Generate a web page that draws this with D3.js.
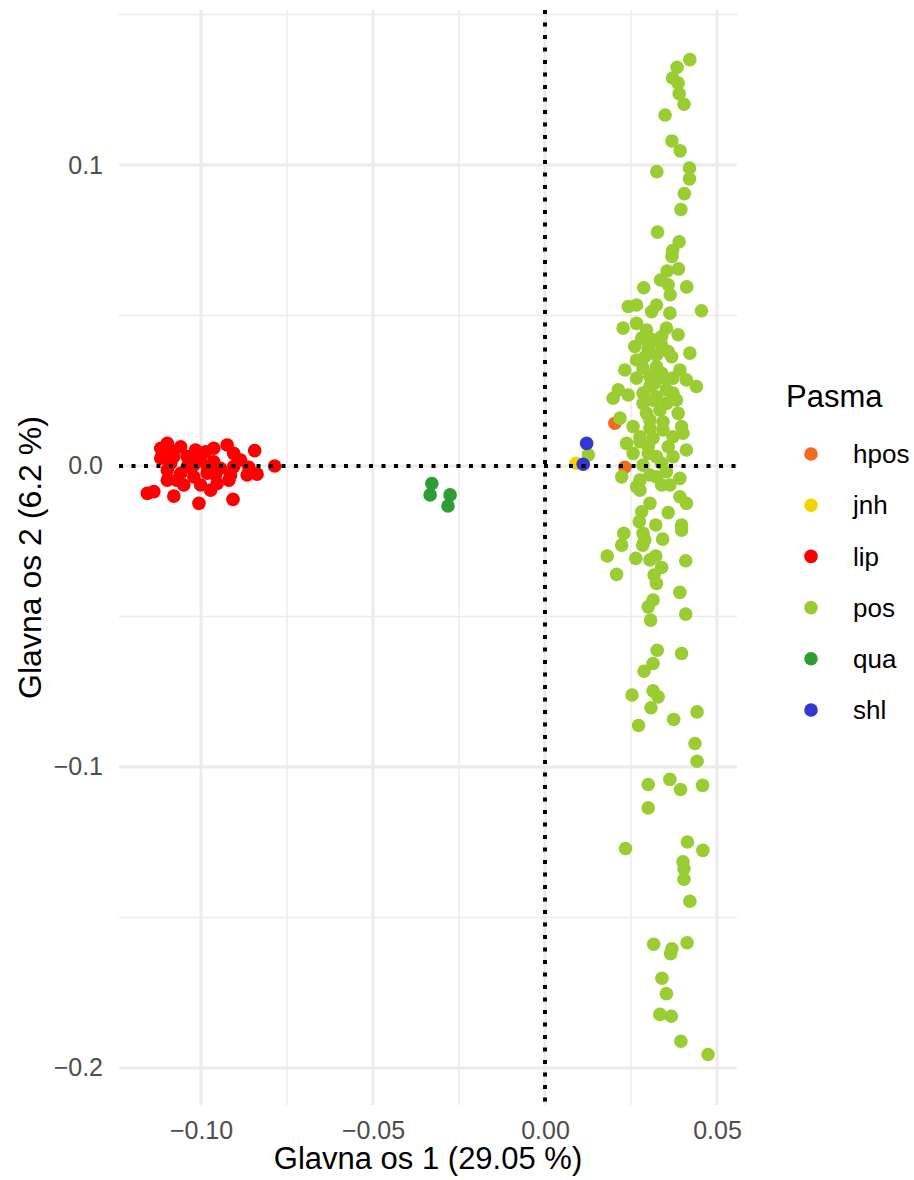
<!DOCTYPE html>
<html>
<head>
<meta charset="utf-8">
<script src="https://cdn.jsdelivr.net/npm/d3@7"></script>
<style>
  html, body { margin: 0; padding: 0; background: #fff; }
  svg { display: block; font-family: "Liberation Sans", Arial, sans-serif; }
</style>
</head>
<body>
<svg id="chart" width="914" height="1180"></svg>
<script>
// PCA scores (PC1, PC2) per breed
const breeds = ["hpos", "jnh", "lip", "pos", "qua", "shl"];
const breedColors = ["#F46A1F", "#F2D500", "#FF0000", "#9ACD32", "#2E9E34", "#3636D0"];

const hpos = [[0.0203, 0.0142], [0.0232, -0.0004]];
const jnh = [[0.0090, 0.0009]];
const lip = [
  [-0.1117, 0.0059], [-0.1098, 0.0075], [-0.1059, 0.0064], [-0.1016, 0.0053], [-0.0963, 0.0059],
  [-0.0924, 0.0070], [-0.0905, 0.0042], [-0.0844, 0.0051], [-0.1117, 0.0026], [-0.1079, 0.0031],
  [-0.1040, 0.0031], [-0.1002, 0.0020], [-0.0982, -0.0002], [-0.0944, -0.0008], [-0.0905, -0.0002],
  [-0.0861, -0.0004], [-0.0837, -0.0027], [-0.0786, 0.0000], [-0.1098, -0.0013], [-0.1059, -0.0024],
  [-0.1021, -0.0036], [-0.0982, -0.0024], [-0.0914, -0.0030], [-0.0866, -0.0030], [-0.1098, -0.0047],
  [-0.1050, -0.0063], [-0.0953, -0.0058], [-0.0919, -0.0047], [-0.1156, -0.0091], [-0.1137, -0.0085],
  [-0.1079, -0.0100], [-0.1006, -0.0124], [-0.0907, -0.0111], [-0.1088, 0.0009], [-0.1021, 0.0003],
  [-0.0963, 0.0014], [-0.1040, -0.0002], [-0.1088, 0.0053], [-0.0987, 0.0047], [-0.1030, 0.0013],
  [-0.1071, -0.0047], [-0.1001, -0.0063], [-0.0958, -0.0030], [-0.0885, 0.0020], [-0.0972, -0.0080]
];
const qua = [[-0.0329, -0.0058], [-0.0334, -0.0096], [-0.0276, -0.0096], [-0.0282, -0.0133]];
const shl = [[0.0121, 0.0075], [0.0111, 0.0006]];
const pos = [
  [0.0421, 0.1350], [0.0384, 0.1325], [0.0371, 0.1289], [0.0387, 0.1272], [0.0390, 0.1237],
  [0.0404, 0.1202], [0.0349, 0.1166], [0.0369, 0.1080], [0.0393, 0.1047], [0.0325, 0.0978],
  [0.0420, 0.0990], [0.0420, 0.0954], [0.0405, 0.0905], [0.0395, 0.0852], [0.0327, 0.0777],
  [0.0390, 0.0745], [0.0371, 0.0716], [0.0369, 0.0696], [0.0355, 0.0648], [0.0388, 0.0655],
  [0.0336, 0.0618], [0.0358, 0.0602], [0.0287, 0.0592], [0.0412, 0.0595], [0.0364, 0.0569],
  [0.0242, 0.0530], [0.0266, 0.0535], [0.0324, 0.0535], [0.0310, 0.0513], [0.0363, 0.0508],
  [0.0455, 0.0516], [0.0227, 0.0458], [0.0266, 0.0474], [0.0295, 0.0452], [0.0353, 0.0458],
  [0.0387, 0.0436], [0.0261, 0.0397], [0.0300, 0.0391], [0.0339, 0.0402], [0.0421, 0.0375],
  [0.0368, 0.0363], [0.0266, 0.0352], [0.0232, 0.0319], [0.0285, 0.0325], [0.0324, 0.0330],
  [0.0392, 0.0319], [0.0266, 0.0292], [0.0348, 0.0292], [0.0411, 0.0286], [0.0440, 0.0264],
  [0.0213, 0.0253], [0.0242, 0.0236], [0.0198, 0.0225], [0.0305, 0.0264], [0.0324, 0.0230],
  [0.0372, 0.0242], [0.0285, 0.0208], [0.0353, 0.0208], [0.0295, 0.0175], [0.0334, 0.0186],
  [0.0387, 0.0175], [0.0218, 0.0159], [0.0256, 0.0131], [0.0305, 0.0125], [0.0343, 0.0120],
  [0.0397, 0.0131], [0.0401, 0.0109], [0.0237, 0.0075], [0.0276, 0.0081], [0.0314, 0.0092],
  [0.0358, 0.0064], [0.0411, 0.0053], [0.0256, 0.0042], [0.0300, 0.0042], [0.0339, 0.0009],
  [0.0223, -0.0036], [0.0276, -0.0047], [0.0324, -0.0036], [0.0392, -0.0041], [0.0353, -0.0019],
  [0.0281, 0.0425], [0.0314, 0.0419], [0.0339, 0.0430], [0.0290, 0.0363], [0.0324, 0.0369],
  [0.0358, 0.0380], [0.0305, 0.0297], [0.0339, 0.0308], [0.0372, 0.0292], [0.0319, 0.0275],
  [0.0285, 0.0242], [0.0353, 0.0253], [0.0314, 0.0219], [0.0382, 0.0219], [0.0305, 0.0153],
  [0.0343, 0.0147], [0.0276, 0.0097], [0.0372, 0.0097], [0.0300, 0.0064], [0.0324, 0.0031],
  [0.0372, 0.0031], [0.0285, 0.0003], [0.0305, -0.0030], [0.0363, -0.0063], [0.0126, 0.0037],
  [0.0266, -0.0069], [0.0276, -0.0080], [0.0339, -0.0063], [0.0392, -0.0102], [0.0411, -0.0124],
  [0.0305, -0.0124], [0.0281, -0.0152], [0.0358, -0.0155], [0.0274, -0.0185], [0.0322, -0.0196],
  [0.0397, -0.0196], [0.0397, -0.0213], [0.0229, -0.0224], [0.0285, -0.0224], [0.0290, -0.0246],
  [0.0342, -0.0243], [0.0223, -0.0263], [0.0284, -0.0263], [0.0181, -0.0299], [0.0264, -0.0307],
  [0.0305, -0.0312], [0.0322, -0.0299], [0.0339, -0.0337], [0.0409, -0.0315], [0.0208, -0.0360],
  [0.0317, -0.0362], [0.0324, -0.0390], [0.0392, -0.0420], [0.0314, -0.0445], [0.0300, -0.0468],
  [0.0409, -0.0492], [0.0307, -0.0512], [0.0326, -0.0612], [0.0397, -0.0623], [0.0314, -0.0656],
  [0.0288, -0.0682], [0.0253, -0.0761], [0.0314, -0.0747], [0.0329, -0.0767], [0.0308, -0.0803],
  [0.0374, -0.0842], [0.0442, -0.0817], [0.0272, -0.0862], [0.0436, -0.0922], [0.0442, -0.0981],
  [0.0300, -0.1058], [0.0363, -0.1041], [0.0394, -0.1075], [0.0458, -0.1061], [0.0300, -0.1136],
  [0.0234, -0.1271], [0.0414, -0.1249], [0.0459, -0.1277], [0.0401, -0.1315], [0.0404, -0.1338],
  [0.0404, -0.1373], [0.0421, -0.1446], [0.0316, -0.1589], [0.0413, -0.1584], [0.0369, -0.1604],
  [0.0365, -0.1620], [0.0340, -0.1702], [0.0353, -0.1753], [0.0334, -0.1822], [0.0367, -0.1828],
  [0.0395, -0.1911], [0.0474, -0.1955]
];

const xTicks = [-0.10, -0.05, 0.00, 0.05];
const xMinor = [-0.075, -0.025, 0.025];
const yTicks = [-0.2, -0.1, 0.0, 0.1];
const yMinor = [-0.15, -0.05, 0.05, 0.15];
const xTitle = "Glavna os 1 (29.05 %)";
const yTitle = "Glavna os 2 (6.2 %)";
const legendTitle = "Pasma";

// drawing order: later groups sit on top
const layers = [
  { key: "hpos", pts: hpos }, { key: "jnh", pts: jnh }, { key: "lip", pts: lip },
  { key: "qua", pts: qua }, { key: "pos", pts: pos }, { key: "shl", pts: shl }
];

const panel = { left: 119, right: 737, top: 10, bottom: 1105 };
const x = d3.scaleLinear().domain([-0.12384, 0.05581]).range([panel.left, panel.right]);
const y = d3.scaleLinear().domain([0.1515, -0.2123]).range([panel.top, panel.bottom]);
const color = d3.scaleOrdinal().domain(breeds).range(breedColors);
const R = 6.8;

const svg = d3.select("#chart");
const grid = svg.append("g");

// minor grid
grid.selectAll(".xmin").data(xMinor).join("line")
  .attr("x1", d => x(d)).attr("x2", d => x(d)).attr("y1", panel.top).attr("y2", panel.bottom)
  .attr("stroke", "#EBEBEB").attr("stroke-width", 1.5);
grid.selectAll(".ymin").data(yMinor).join("line")
  .attr("y1", d => y(d)).attr("y2", d => y(d)).attr("x1", panel.left).attr("x2", panel.right)
  .attr("stroke", "#EBEBEB").attr("stroke-width", 1.5);
// major grid
grid.selectAll(".xmaj").data(xTicks).join("line")
  .attr("x1", d => x(d)).attr("x2", d => x(d)).attr("y1", panel.top).attr("y2", panel.bottom)
  .attr("stroke", "#EBEBEB").attr("stroke-width", 3);
grid.selectAll(".ymaj").data(yTicks).join("line")
  .attr("y1", d => y(d)).attr("y2", d => y(d)).attr("x1", panel.left).attr("x2", panel.right)
  .attr("stroke", "#EBEBEB").attr("stroke-width", 3);

// axes (labels only)
const xAxis = svg.append("g").attr("transform", `translate(0,${panel.bottom})`)
  .call(d3.axisBottom(x).tickValues(xTicks).tickFormat(d3.format(".2f")).tickSize(0).tickPadding(16));
const yAxis = svg.append("g").attr("transform", `translate(${panel.left},0)`)
  .call(d3.axisLeft(y).tickValues(yTicks).tickFormat(d3.format(".1f")).tickSize(0).tickPadding(16));
[xAxis, yAxis].forEach(a => {
  a.select(".domain").remove();
  a.selectAll("text").attr("fill", "#4D4D4D").style("font-size", "25px")
    .style("font-family", "'Liberation Sans', Arial, sans-serif");
});

// points
layers.forEach(layer => {
  svg.append("g").selectAll("circle").data(layer.pts).join("circle")
    .attr("cx", d => x(d[0])).attr("cy", d => y(d[1])).attr("r", R)
    .attr("fill", color(layer.key));
});

// zero reference lines
svg.append("line")
  .attr("x1", panel.left).attr("x2", panel.right).attr("y1", y(0)).attr("y2", y(0))
  .attr("stroke", "#000").attr("stroke-width", 4).attr("stroke-dasharray", "4 8.5");
svg.append("line")
  .attr("x1", x(0)).attr("x2", x(0)).attr("y1", panel.top).attr("y2", panel.bottom)
  .attr("stroke", "#000").attr("stroke-width", 4).attr("stroke-dasharray", "4 8.5");

// axis titles
svg.append("text").attr("x", (panel.left + panel.right) / 2).attr("y", 1169)
  .attr("text-anchor", "middle").style("font-size", "31px").attr("fill", "#000").text(xTitle);
svg.append("text").attr("transform", `translate(41,${(panel.top + panel.bottom) / 2}) rotate(-90)`)
  .attr("text-anchor", "middle").style("font-size", "32px").attr("fill", "#000").text(yTitle);

// legend
const legend = svg.append("g").attr("transform", "translate(786,0)");
legend.append("text").attr("x", 0).attr("y", 407).style("font-size", "31px").attr("fill", "#000").text(legendTitle);
const items = legend.selectAll(".item").data(breeds).join("g")
  .attr("transform", (d, i) => `translate(0,${454 + i * 51.2})`);
items.append("circle").attr("cx", 25).attr("cy", 0).attr("r", 6.8).attr("fill", d => color(d));
items.append("text").attr("x", 67).attr("y", 0).attr("dy", "0.35em")
  .style("font-size", "26px").attr("fill", "#000").text(d => d);
</script>
</body>
</html>
